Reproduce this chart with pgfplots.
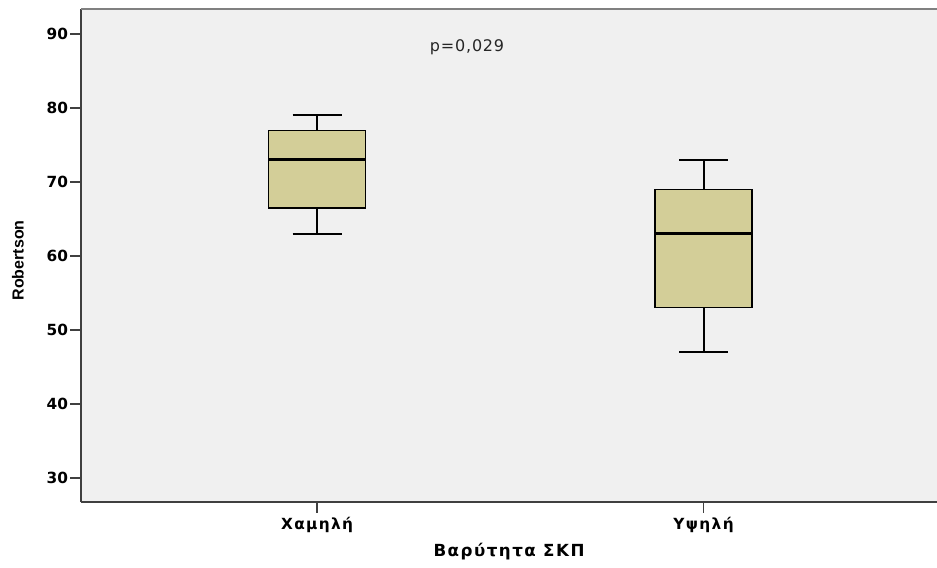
\documentclass[border=0pt]{standalone}
\usepackage{pgfplots}
\pgfplotsset{compat=1.18}
\usepackage{fontspec}
\setmainfont{DejaVu Sans}
\newfontfamily\lblfont[LetterSpace=9]{DejaVu Sans}
\newfontfamily\pfont[LetterSpace=5]{DejaVu Sans}
\newfontfamily\ylfont{Liberation Sans}
\definecolor{bg}{RGB}{240,240,240}
\definecolor{boxfill}{RGB}{211,206,152}
\definecolor{axc}{RGB}{64,64,64}
\begin{document}
\begin{tikzpicture}
\useasboundingbox (0,0) rectangle (702.75pt,425.25pt);
\begin{axis}[
  at={(60.75pt,48.75pt)}, anchor=south west,
  scale only axis, width=642pt, height=369.75pt,
  xmin=-0.611, xmax=1.604, ymin=26.76, ymax=93.38,
  axis background/.style={fill=bg},
  axis x line*=bottom, axis y line*=left,
  axis line style={axc, line width=1.2pt},
  xtick={0,1}, xticklabels={Χαμηλή,Υψηλή},
  ytick={30,40,50,60,70,80,90},
  xtick pos=bottom, ytick pos=left,
  tick align=outside,
  major tick length=8pt,
  tick style={axc, line width=1pt},
  /pgf/number format/assume math mode=true,
  yticklabel style={font=\bfseries\fontsize{11.5}{13}\selectfont, inner sep=1.5pt},
  xticklabel style={font=\lblfont\bfseries\fontsize{11.5}{13}\selectfont},
  xlabel={Βαρύτητα ΣΚΠ},
  xlabel style={font=\lblfont\bfseries\fontsize{12.5}{14}\selectfont, at={(axis description cs:0.5,-0.1)}, anchor=center},
  ylabel={Robertson},
  ylabel style={font=\ylfont\bfseries\fontsize{12}{14}\selectfont, at={(axis description cs:-0.0736,0.49)}, anchor=center},
  clip=false,
]
% group 1: whiskers 63-79, quartiles 66.5-77, median 73
\addplot[black, line width=1.5pt] coordinates {(0,77) (0,79)};
\addplot[black, line width=1.5pt] coordinates {(0,63) (0,66.5)};
\addplot[black, line width=1.5pt] coordinates {(-0.0635,79) (0.0635,79)};
\addplot[black, line width=1.5pt] coordinates {(-0.0635,63) (0.0635,63)};
\addplot[draw=black, fill=boxfill, line width=0.9pt] coordinates {(-0.1255,66.5) (0.1255,66.5) (0.1255,77) (-0.1255,77)} --cycle;
\addplot[black, line width=2.4pt] coordinates {(-0.1255,73) (0.1255,73)};
% group 2: whiskers 47-73, quartiles 53-69, median 63
\addplot[black, line width=1.5pt] coordinates {(1,69) (1,73)};
\addplot[black, line width=1.5pt] coordinates {(1,47) (1,53)};
\addplot[black, line width=1.5pt] coordinates {(0.9365,73) (1.0635,73)};
\addplot[black, line width=1.5pt] coordinates {(0.9365,47) (1.0635,47)};
\addplot[draw=black, fill=boxfill, line width=0.9pt] coordinates {(0.8745,53) (1.1255,53) (1.1255,69) (0.8745,69)} --cycle;
\addplot[black, line width=2.4pt] coordinates {(0.8745,63) (1.1255,63)};
\draw[gray, line width=1.5pt] (rel axis cs:0,1) -- (rel axis cs:1,1);
\node[font=\pfont\fontsize{12}{14}\selectfont, text=black!85] at (axis cs:0.388,88.2) {p=0,029};
\end{axis}
\end{tikzpicture}
\end{document}
